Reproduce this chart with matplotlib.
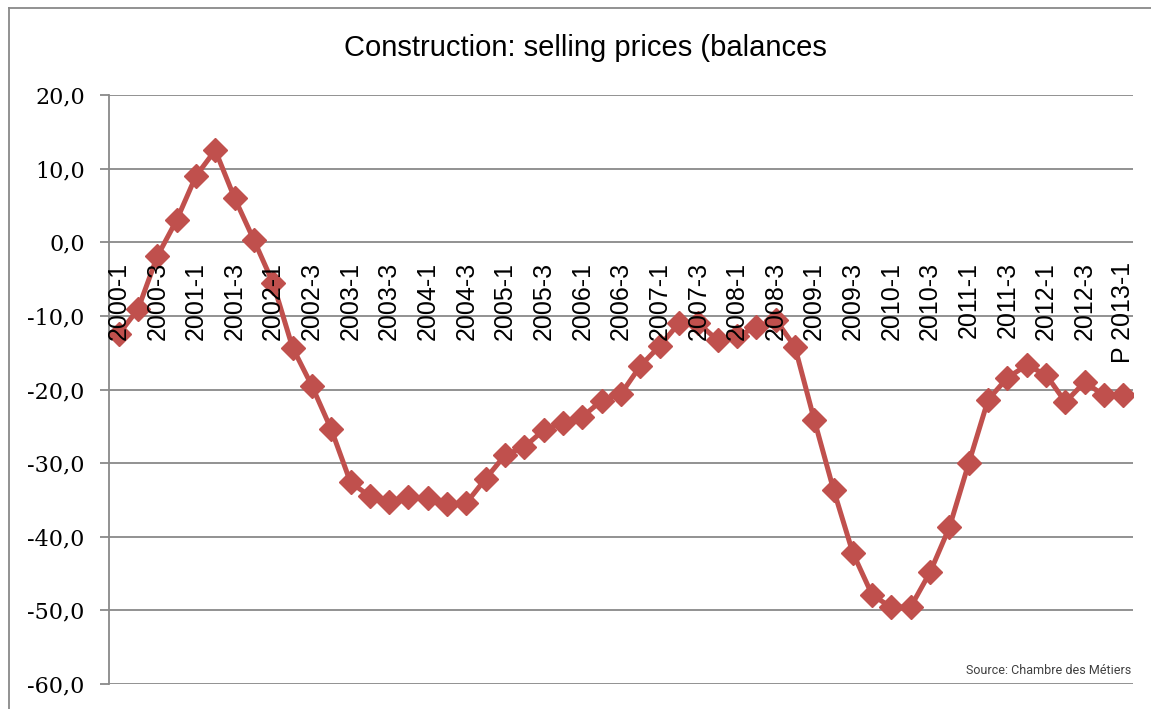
import numpy as np
import matplotlib
matplotlib.use("Agg")
import matplotlib.pyplot as plt
from matplotlib.lines import Line2D

# quarterly balances, 2000-1 .. 2013-1
years = list(range(2000, 2014))
quarters = [f"{y}-{q}" for y in years for q in range(1, 5)][:53]
values = [
    -12.5, -9.1, -1.9, 3.0,
    9.0, 12.5, 6.0, 0.3,
    -5.6, -14.3, -19.5, -25.4,
    -32.6, -34.5, -35.3, -34.6,
    -34.8, -35.6, -35.4, -32.1,
    -28.9, -27.8, -25.5, -24.5,
    -23.7, -21.5, -20.6, -16.8,
    -14.1, -11.0, -11.0, -13.3,
    -12.8, -11.5, -10.5, -14.2,
    -24.1, -33.6, -42.2, -47.9,
    -49.6, -49.5, -44.8, -38.7,
    -30.0, -21.4, -18.4, -16.7,
    -18.0, -21.7, -19.0, -20.8,
    -20.8,
]
tick_labels = quarters[::2]
tick_labels[-1] = "P " + tick_labels[-1]
yticks = np.arange(-60, 21, 10)

grid_col = "#898989"
line_col = "#C0504D"

fig = plt.figure(figsize=(11.51, 7.09), dpi=100)
ax = fig.add_axes([109 / 1151, 1 - 684 / 709, (1133 - 109) / 1151, (684 - 95) / 709])

x = np.arange(len(values))
ax.plot(x, values, color=line_col, lw=3.6, marker="D", ms=12,
        markerfacecolor=line_col, markeredgecolor=line_col, zorder=3)

ax.set_xlim(-0.5, len(values) - 0.5)
ax.set_ylim(-60, 20)
ax.set_yticks(yticks)
ax.set_yticklabels([f"{v:.1f}".replace(".", ",") for v in yticks],
                   family="DejaVu Serif", fontsize=16)
ax.tick_params(axis="y", direction="out", length=6.5, width=1.3, color=grid_col, pad=11)
ax.set_xticks([])
ax.yaxis.grid(True, color=grid_col, lw=1.3)
ax.set_axisbelow(True)
for s in ["top", "right", "bottom"]:
    ax.spines[s].set_visible(False)
ax.spines["left"].set_color(grid_col)
ax.spines["left"].set_linewidth(1.3)

# category labels hanging under the zero line
for i, lab in zip(x[::2], tick_labels):
    ax.annotate(lab, (i, 0), xytext=(0, -14), textcoords="offset points",
                rotation=90, ha="center", va="top", fontsize=18,
                family="Liberation Sans", zorder=4)

fig.text(585 / 1151, 1 - 48 / 709, "Construction: selling prices (balances",
         ha="center", va="center", fontsize=21, family="Liberation Sans")
fig.text(1131 / 1151, 1 - 670 / 709, "Source: Chambre des Métiers",
         ha="right", va="center", fontsize=9, color="#404040",
         family="Roboto")

# outer chart frame
fig.add_artist(Line2D([8.5 / 1151, 8.5 / 1151], [0, 1 - 7.5 / 709], color=grid_col, lw=1.3))
fig.add_artist(Line2D([8.5 / 1151, 1], [1 - 7.5 / 709, 1 - 7.5 / 709], color=grid_col, lw=1.3))

fig.savefig("out.png", dpi=100)
